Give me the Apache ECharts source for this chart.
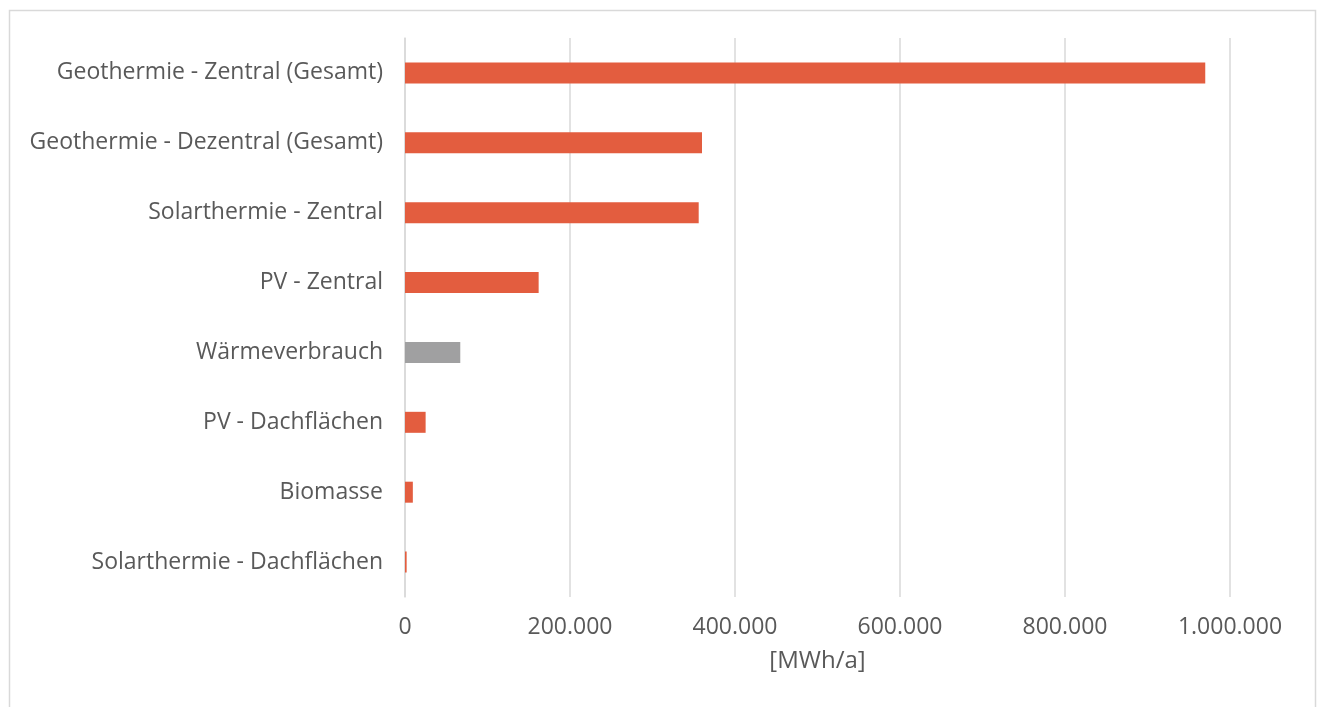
<!DOCTYPE html>
<html>
<head>
<meta charset="utf-8">
<script src="https://cdn.jsdelivr.net/npm/echarts@6/dist/echarts.min.js"></script>
<style>
  html, body { margin: 0; padding: 0; background: #ffffff; }
  #chart { width: 1319px; height: 707px; }
</style>
</head>
<body>
<div id="chart"></div>
<script>
// Potenziale und Verbrauch, von oben nach unten
const categories = [
  'Geothermie - Zentral (Gesamt)',
  'Geothermie - Dezentral (Gesamt)',
  'Solarthermie - Zentral',
  'PV - Zentral',
  'Wärmeverbrauch',
  'PV - Dachflächen',
  'Biomasse',
  'Solarthermie - Dachflächen'
];
// Jahresmengen in MWh/a
const values = [970000, 360000, 356000, 162000, 67000, 25000, 9500, 2000];
const axisTicks = [0, 200000, 400000, 600000, 800000, 1000000];
const unitLabel = '[MWh/a]';
const consumptionCategory = 'Wärmeverbrauch';

const potentialColor = '#E35D3F';
const consumptionColor = '#A0A0A1';
const textColor = '#595959';
const lineColor = '#D9D9D9';
const fontFamily = '"Open Sans", "Noto Sans", sans-serif';

// Tausendertrennzeichen als Punkt
function formatNumber(v) {
  return String(Math.round(v)).replace(/\B(?=(\d{3})+(?!\d))/g, '.');
}

const chart = echarts.init(document.getElementById('chart'), null, { renderer: 'canvas' });

chart.setOption({
  backgroundColor: '#ffffff',
  animation: false,
  textStyle: { fontFamily: fontFamily },
  graphic: [{
    type: 'rect',
    left: 7,
    top: 8,
    shape: { width: 1306, height: 720 },
    style: { fill: 'none', stroke: lineColor, lineWidth: 1.5 },
    silent: true
  }],
  grid: { left: 405, right: 89, top: 38, bottom: 110, containLabel: false },
  xAxis: {
    type: 'value',
    min: axisTicks[0],
    max: axisTicks[axisTicks.length - 1],
    interval: axisTicks[1] - axisTicks[0],
    name: unitLabel,
    nameLocation: 'middle',
    nameGap: 52,
    nameTextStyle: { color: textColor, fontSize: 24, fontFamily: fontFamily },
    axisLine: { show: false },
    axisTick: { show: false },
    axisLabel: {
      color: textColor,
      fontSize: 23,
      margin: 19,
      fontFamily: fontFamily,
      formatter: formatNumber
    },
    splitLine: { show: true, lineStyle: { color: lineColor, width: 1.5 } }
  },
  yAxis: {
    type: 'category',
    inverse: true,
    data: categories,
    axisLine: { show: true, lineStyle: { color: lineColor, width: 1.5 } },
    axisTick: { show: false },
    axisLabel: { color: textColor, fontSize: 23, margin: 22, fontFamily: fontFamily },
    splitLine: { show: false }
  },
  series: [{
    type: 'bar',
    barWidth: 21,
    data: values.map((v, i) => ({
      value: v,
      itemStyle: { color: categories[i] === consumptionCategory ? consumptionColor : potentialColor }
    }))
  }]
});
</script>
</body>
</html>
